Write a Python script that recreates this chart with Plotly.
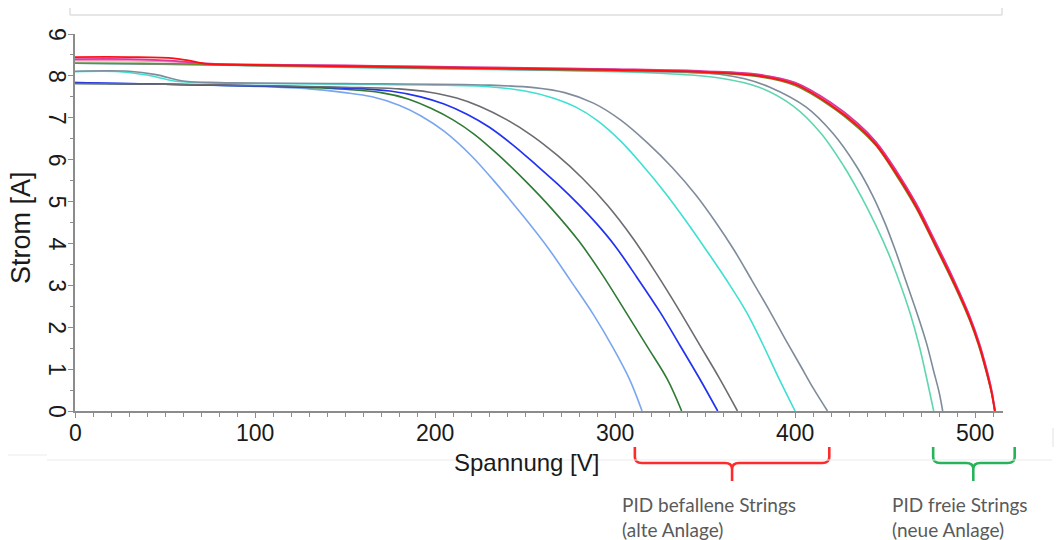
import plotly.graph_objects as go

# ---- I-V curves of the measured strings (voltage in V, current in A) ----
# PID-affected strings (old installation)
v_lightblue = [0, 50, 100, 130, 150, 165, 180, 192, 205, 220, 235, 250, 263, 275, 288, 299, 308, 315]
i_lightblue = [7.84, 7.80, 7.75, 7.69, 7.60, 7.50, 7.30, 7.05, 6.68, 6.10, 5.38, 4.60, 3.88, 3.13, 2.30, 1.50, 0.76, 0.0]

v_green = [0, 50, 100, 150, 170, 185, 198, 210, 222, 235, 250, 265, 280, 293, 306, 318, 329, 337]
i_green = [7.82, 7.80, 7.76, 7.68, 7.60, 7.45, 7.22, 6.95, 6.60, 6.12, 5.50, 4.82, 4.05, 3.25, 2.36, 1.53, 0.76, 0.0]

v_blue = [0, 50, 100, 150, 175, 192, 205, 218, 230, 243, 256, 268, 280, 290, 300, 312, 325, 336, 347, 357]
i_blue = [7.84, 7.80, 7.76, 7.71, 7.64, 7.50, 7.33, 7.08, 6.78, 6.36, 5.88, 5.42, 4.92, 4.46, 3.94, 3.20, 2.36, 1.57, 0.77, 0.0]

v_darkgray = [0, 50, 100, 150, 180, 197, 212, 225, 240, 254, 268, 282, 296, 310, 323, 336, 347, 358, 368]
i_darkgray = [7.82, 7.80, 7.77, 7.73, 7.69, 7.61, 7.47, 7.27, 6.95, 6.57, 6.10, 5.55, 4.90, 4.12, 3.28, 2.38, 1.58, 0.78, 0.0]

v_turq = [0, 25, 40, 55, 70, 100, 150, 200, 230, 250, 265, 278, 290, 303, 315, 328, 340, 351, 362, 373, 382, 391, 400]
i_turq = [8.10, 8.10, 8.02, 7.88, 7.84, 7.82, 7.80, 7.78, 7.74, 7.64, 7.48, 7.26, 6.94, 6.45, 5.88, 5.20, 4.50, 3.82, 3.12, 2.36, 1.60, 0.78, 0.0]

v_slate = [0, 30, 45, 60, 80, 150, 230, 255, 272, 288, 303, 318, 332, 345, 356, 366, 376, 386, 395, 403, 410, 418]
i_slate = [8.11, 8.11, 8.03, 7.88, 7.84, 7.82, 7.78, 7.72, 7.60, 7.35, 6.95, 6.40, 5.80, 5.15, 4.50, 3.85, 3.12, 2.38, 1.68, 1.08, 0.55, 0.0]

# PID-free strings (new installation)
v_aqua = [0, 50, 100, 150, 200, 250, 300, 330, 358, 380, 399, 414, 427, 437, 445, 452, 458, 464, 469, 473, 477]
i_aqua = [8.30, 8.28, 8.24, 8.20, 8.17, 8.14, 8.10, 8.05, 7.95, 7.73, 7.28, 6.65, 5.85, 5.10, 4.42, 3.75, 3.08, 2.32, 1.55, 0.80, 0.0]

v_slate2 = [0, 100, 200, 300, 340, 358, 372, 386, 406, 421, 434, 443, 450, 456, 462, 468, 473, 477, 480, 482]
i_slate2 = [8.30, 8.25, 8.18, 8.12, 8.08, 8.04, 7.93, 7.73, 7.26, 6.63, 5.85, 5.15, 4.48, 3.80, 3.05, 2.30, 1.62, 0.95, 0.45, 0.0]

v_new = [0, 30, 55, 65, 75, 100, 150, 200, 250, 300, 350, 380, 400, 420, 435, 445, 456, 467, 477, 485, 491, 497, 502, 506, 509, 511]
i_olive = [8.30, 8.30, 8.29, 8.28, 8.27, 8.25, 8.22, 8.19, 8.16, 8.13, 8.08, 7.98, 7.77, 7.27, 6.76, 6.33, 5.64, 4.86, 4.01, 3.31, 2.76, 2.16, 1.56, 0.96, 0.45, 0.0]
i_pink = [8.37, 8.37, 8.34, 8.31, 8.28, 8.26, 8.24, 8.21, 8.18, 8.15, 8.10, 8.02, 7.82, 7.33, 6.83, 6.40, 5.72, 4.94, 4.09, 3.39, 2.83, 2.23, 1.63, 1.03, 0.50, 0.0]
i_magenta = [8.40, 8.40, 8.36, 8.32, 8.29, 8.27, 8.25, 8.22, 8.19, 8.16, 8.11, 8.03, 7.84, 7.36, 6.86, 6.42, 5.75, 4.97, 4.12, 3.42, 2.86, 2.26, 1.66, 1.06, 0.52, 0.0]
i_red = [8.45, 8.45, 8.42, 8.35, 8.28, 8.26, 8.23, 8.20, 8.17, 8.14, 8.09, 8.00, 7.80, 7.30, 6.80, 6.36, 5.68, 4.90, 4.05, 3.35, 2.80, 2.20, 1.60, 1.00, 0.48, 0.0]

# Axis ticks
x_ticks = [0, 100, 200, 300, 400, 500]
y_ticks = [0, 1, 2, 3, 4, 5, 6, 7, 8, 9]
x_range = [0, 515.5]
y_range = [0, 9]

# Brackets below the axis: (left, centre, right) voltage of each group
groups = [
    {"label": "PID befallene Strings<br>(alte Anlage)", "span": (311, 365, 419), "text_x": 302.5, "color": "#ff2b2b"},
    {"label": "PID freie Strings<br>(neue Anlage)", "span": (476.7, 499, 522), "text_x": 453, "color": "#27b35a"},
]

curves = [
    (v_lightblue, i_lightblue, "#7aa6f0", 1.6),
    (v_green, i_green, "#2f7a34", 1.6),
    (v_blue, i_blue, "#2233f0", 1.7),
    (v_darkgray, i_darkgray, "#6b6b72", 1.6),
    (v_turq, i_turq, "#3fe0d2", 1.6),
    (v_slate, i_slate, "#7f8c9c", 1.6),
    (v_aqua, i_aqua, "#5fd6b0", 1.6),
    (v_slate2, i_slate2, "#7d8b9c", 1.6),
    (v_new, i_pink, "#f590c0", 2.4),
    (v_new, i_olive, "#6a8f2a", 1.6),
    (v_new, i_magenta, "#d63a9c", 1.8),
    (v_new, i_red, "#ff1010", 1.8),
]

fig = go.Figure()
for v, i, color, w in curves:
    fig.add_trace(go.Scatter(x=v, y=i, mode="lines", line=dict(color=color, width=w, shape="spline", smoothing=1.0),
                             showlegend=False, hoverinfo="skip"))

axis_col = "#8c8c8c"
font_family = "Liberation Sans, Arial, sans-serif"
tick_font = dict(family=font_family, size=23, color="#1a1a1a")

fig.update_xaxes(range=x_range, tickvals=x_ticks, ticks="outside", ticklen=5, tickwidth=1, tickcolor=axis_col,
                 minor=dict(dtick=10, ticks="outside", ticklen=4, tickcolor=axis_col),
                 showline=True, linecolor=axis_col, linewidth=2, showgrid=False, zeroline=False,
                 showticklabels=False)
fig.update_yaxes(range=y_range, tickvals=y_ticks, ticks="outside", ticklen=5, tickwidth=1,
                 tickcolor=axis_col,
                 minor=dict(dtick=0.5, ticks="outside", ticklen=3, tickcolor=axis_col),
                 showline=True, linecolor=axis_col, linewidth=2, showgrid=False, zeroline=False,
                 showticklabels=False)

L, R, T, B = 75, 55, 34, 129
W, H = 1058, 540
pw, ph = W - L - R, H - T - B


def xp(v):
    # voltage -> paper x
    return (v - x_range[0]) / (x_range[1] - x_range[0])


def yp(py):
    # pixel row -> paper y
    return (H - B - py) / ph


def px_x(px):
    return (px - L) / pw


shapes = []
for g in groups:
    x0, xc, x1 = (xp(s) for s in g["span"])
    ytop, ybar, ystem = yp(447), yp(463), yp(481)
    rx, ry = 7 / pw, 6 / ph
    path = (f"M {x0},{ytop} L {x0},{ybar + ry} Q {x0},{ybar} {x0 + rx},{ybar} "
            f"L {xc - rx},{ybar} Q {xc},{ybar} {xc},{ybar - ry} L {xc},{ystem} "
            f"M {xc},{ybar - ry} Q {xc},{ybar} {xc + rx},{ybar} "
            f"L {x1 - rx},{ybar} Q {x1},{ybar} {x1},{ybar + ry} L {x1},{ytop}")
    shapes.append(dict(type="path", xref="paper", yref="paper", path=path,
                       line=dict(color=g["color"], width=2.6)))

# light frame lines around the chart
frame = "#dedede"
shapes += [
    dict(type="line", xref="paper", yref="paper", x0=px_x(70), x1=px_x(1002), y0=yp(15), y1=yp(15), line=dict(color=frame, width=1.5)),
    dict(type="line", xref="paper", yref="paper", x0=px_x(70), x1=px_x(70), y0=yp(8), y1=yp(15), line=dict(color=frame, width=1.5)),
    dict(type="line", xref="paper", yref="paper", x0=px_x(1002), x1=px_x(1002), y0=yp(8), y1=yp(15), line=dict(color=frame, width=1.5)),
    dict(type="line", xref="paper", yref="paper", x0=px_x(47), x1=px_x(1052), y0=yp(460), y1=yp(460), line=dict(color="#ececec", width=1.2)),
    dict(type="line", xref="paper", yref="paper", x0=px_x(1053), x1=px_x(1053), y0=yp(428), y1=yp(447), line=dict(color="#e6e6e6", width=1.2)),
    dict(type="line", xref="paper", yref="paper", x0=px_x(8), x1=px_x(47), y0=yp(455), y1=yp(455), line=dict(color="#ececec", width=1.2)),
]

annotations = []
# tick labels: x below the axis, y turned sideways left of the axis
for t in x_ticks:
    annotations.append(dict(text=str(t), xref="x", yref="paper", x=t, y=yp(433),
                            xanchor="center", yanchor="middle", showarrow=False, font=tick_font))
for t in y_ticks:
    annotations.append(dict(text=str(t), xref="paper", yref="y", x=px_x(57), y=t,
                            xanchor="center", yanchor="middle", textangle=90, showarrow=False, font=tick_font))

for g in groups:
    annotations.append(dict(text=g["label"], xref="paper", yref="paper", x=xp(g["text_x"]), y=yp(516.5),
                            xanchor="left", yanchor="middle", align="left", showarrow=False,
                            font=dict(family="Lato, Open Sans, sans-serif", size=19, color="#5a5a5a")))

# axis titles
annotations.append(dict(text="Spannung [V]", xref="paper", yref="paper", x=px_x(526), y=yp(462),
                        xanchor="center", yanchor="middle", showarrow=False,
                        font=dict(family=font_family, size=24, color="#1a1a1a")))
annotations.append(dict(text="Strom [A]", xref="paper", yref="paper", x=px_x(21), y=yp(228),
                        xanchor="center", yanchor="middle", textangle=-90, showarrow=False,
                        font=dict(family=font_family, size=27, color="#1a1a1a")))

fig.update_layout(width=W, height=H, margin=dict(l=L, r=R, t=T, b=B),
                  paper_bgcolor="white", plot_bgcolor="white",
                  shapes=shapes, annotations=annotations)

fig.write_html("out.html")
